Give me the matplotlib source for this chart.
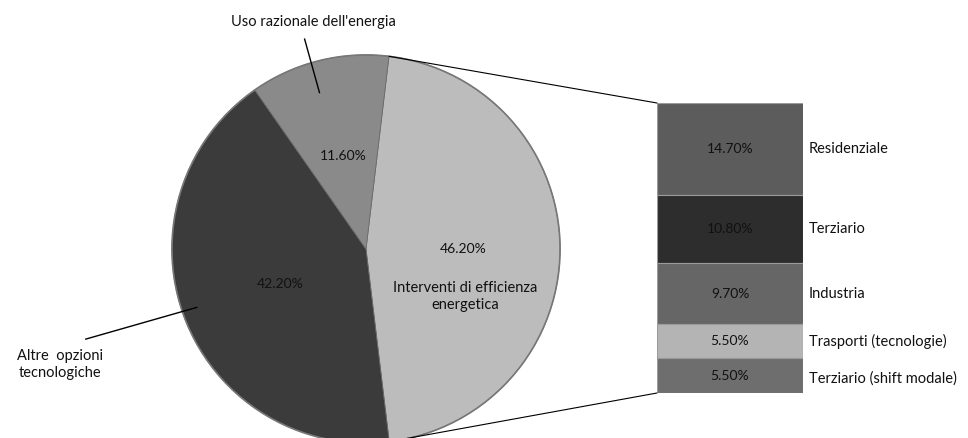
import numpy as np
import matplotlib.pyplot as plt
from matplotlib.patches import ConnectionPatch

plt.rcParams['font.family'] = ['Lato', 'DejaVu Sans']

# Dati torta
torta_nomi = ['Interventi di efficienza\nenergetica', 'Altre  opzioni\ntecnologiche', "Uso razionale dell'energia"]
torta_valori = [46.2, 42.2, 11.6]
torta_colori = ['#bcbcbc', '#3b3b3b', '#8a8a8a']

# Dati barra (dall'alto verso il basso)
barra_nomi = ['Residenziale', 'Terziario', 'Industria', 'Trasporti (tecnologie)', 'Terziario (shift modale)']
barra_valori = [14.7, 10.8, 9.7, 5.5, 5.5]
barra_colori = ['#5c5c5c', '#2d2d2d', '#666666', '#b4b4b4', '#6e6e6e']

FS_NOMI = 10.5
FS_PERC = 10

W, H = 968, 438
fig = plt.figure(figsize=(W / 100, H / 100), dpi=100)

# Asse della torta (coordinate in pixel)
cx, cy, r = 366, 249, 196
ax = fig.add_axes([(cx - r) / W, (H - cy - r) / H, 2 * r / W, 2 * r / H])
start = 90 - 6.8
wedges, _ = ax.pie(torta_valori, colors=torta_colori, startangle=start, counterclock=False,
                   radius=1, wedgeprops=dict(edgecolor='#6a6a6a', linewidth=0.6))
ax.set_xlim(-1.01, 1.01)
ax.set_ylim(-1.01, 1.01)
ax.set_aspect('equal')
ax.axis('off')
for w in wedges:
    w.set_clip_on(False)
# bordo scuro esterno
ax.add_patch(plt.Circle((0, 0), 1, fill=False, edgecolor='#777777', linewidth=1.2, clip_on=False))

def px(x, y):
    return ((x - cx) / r, (cy - y) / r)

# etichette percentuali
ax.text(*px(343, 155), '%.2f%%' % torta_valori[2], ha='center', va='center', fontsize=FS_PERC, color='#111111')
ax.text(*px(279, 284), '%.2f%%' % torta_valori[1], ha='center', va='center', fontsize=FS_PERC, color='#111111')
ax.text(*px(464, 249), '%.2f%%' % torta_valori[0], ha='center', va='center', fontsize=FS_PERC, color='#111111')
ax.text(*px(466, 297), torta_nomi[0], ha='center', va='center', fontsize=FS_NOMI, color='#111111', linespacing=1.2)

# etichette esterne con linee guida
ax.text(*px(313, 20), torta_nomi[2], ha='center', va='center', fontsize=FS_NOMI, color='#111111')
ax.plot(*zip(px(304, 37), px(319, 91)), color='black', lw=1, clip_on=False)
ax.text(*px(57, 366), torta_nomi[1], ha='center', va='center', fontsize=FS_NOMI, color='#111111',
        linespacing=1.25)
ax.plot(*zip(px(83, 340), px(195, 308)), color='black', lw=1, clip_on=False)

# Asse della barra
bx0, bx1, by0, by1 = 657, 803, 103, 393
bx = fig.add_axes([bx0 / W, (H - by1) / H, (bx1 - bx0) / W, (by1 - by0) / H])
totale = sum(barra_valori)
fondo = np.cumsum([0] + barra_valori[:-1])
for nome, v, b, c in zip(barra_nomi, barra_valori, fondo, barra_colori):
    bx.bar(0, v, bottom=b, width=1, color=c, edgecolor='#9a9a9a', linewidth=0.8)
    bx.text(0, b + v / 2, '%.2f%%' % v, ha='center', va='center', fontsize=FS_PERC, color='#111111')
    yoff = 0.5 if nome == 'Terziario (shift modale)' else 0
    bx.text(0.54, b + v / 2 + yoff, nome, ha='left', va='center', fontsize=FS_NOMI, color='#111111',
            clip_on=False)
bx.set_xlim(-0.5, 0.5)
bx.set_ylim(totale, 0)
bx.axis('off')

# linee di collegamento torta -> barra
a1 = np.deg2rad(start)
a2 = np.deg2rad(start - 360 * torta_valori[0] / sum(torta_valori))
for ang, yb in [(a1, 0), (a2, totale)]:
    con = ConnectionPatch(xyA=(np.cos(ang), np.sin(ang)), coordsA=ax.transData,
                          xyB=(-0.5, yb), coordsB=bx.transData, color='black', lw=0.8)
    fig.add_artist(con)

fig.savefig('out.png', dpi=100)
